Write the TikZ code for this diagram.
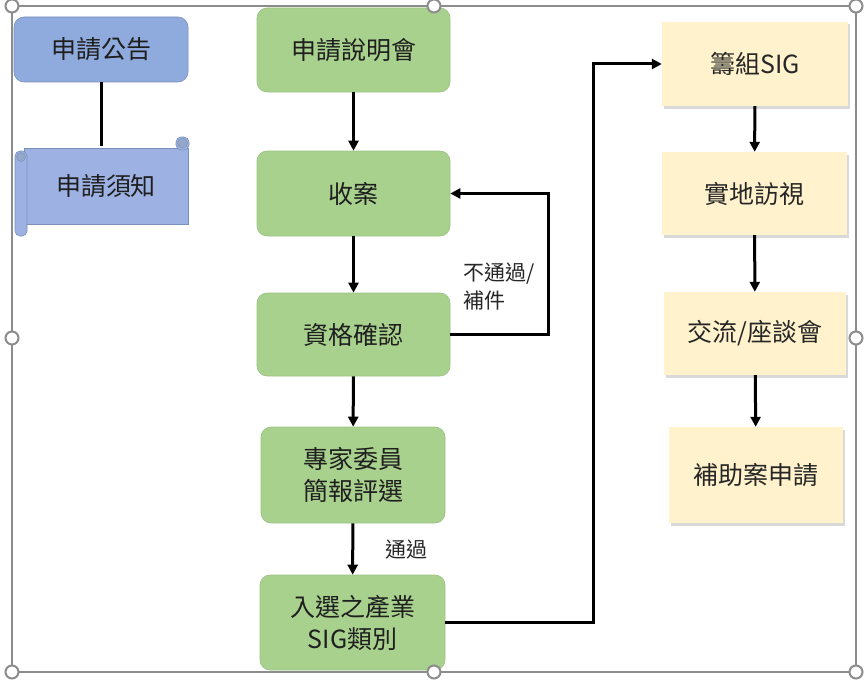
\documentclass[tikz,border=0pt]{standalone}
\usepackage{fontspec}
\setmainfont{Noto Sans CJK TC}
\usetikzlibrary{arrows.meta,shadows}
\definecolor{boxgreen}{HTML}{A9D18E}
\definecolor{boxblue}{HTML}{8FAADC}
\definecolor{scrollblue}{HTML}{9DB2E2}
\definecolor{boxyellow}{HTML}{FFF2CC}
\tikzstyle{greenbox}=[rectangle,rounded corners=10pt,fill=boxgreen,draw=boxgreen!92!black,line width=0.6pt,align=center,text=black!88,font=\fontsize{25}{32}\selectfont]
\tikzstyle{bluebox}=[rectangle,rounded corners=10pt,fill=boxblue,draw=boxblue!85!black,line width=0.6pt,text=black!88,font=\fontsize{25}{32}\selectfont]
\tikzstyle{yellowbox}=[rectangle,fill=boxyellow,align=center,text=black!85,font=\fontsize{25}{32}\selectfont,drop shadow={shadow xshift=2pt,shadow yshift=-2.5pt,opacity=0.3}]
\tikzstyle{edge} = [draw,line width=3pt,-{Triangle[length=10pt,width=10pt]}]
\tikzstyle{note} = [font=\fontsize{21}{28}\selectfont,align=left,text=black!85]

\begin{document}
\begin{tikzpicture}[x=1pt,y=-1pt]
    \useasboundingbox (0,0) rectangle (865,685);

    % green column
    \foreach \x/\y/\w/\h/\name/\txt in {353.5/50/193/84/sm/{申請說明會}, 353.5/193.5/193/85/sa/{收案},
        353.5/334.5/193/83/zg/{資格確認}, 353/475/184/96/zj/{專家委員\\簡報評選}, 352.5/622.5/185/95/rx/{入選之產業\\SIG類別}}
        \node[greenbox, minimum width=\w pt, minimum height=\h pt] (\name) at (\x,\y) {\txt};

    % yellow column
    \foreach \x/\y/\w/\h/\name/\txt in {755/64/186/84/cz/{籌組SIG}, 754.5/193.5/185/83/sd/{實地訪視},
        755/333.5/182/83/jl/{交流/座談會}, 756/475/174/96/bz/{補助案申請}}
        \node[yellowbox, minimum width=\w pt, minimum height=\h pt] (\name) at (\x,\y) {\txt};

    % blue: notice and scroll
    \node[bluebox, minimum width=174pt, minimum height=65pt] (gg) at (101,49.5) {申請公告};
    \draw[line width=3pt] (gg.south) -- (101,146);
    \node[rectangle, fill=scrollblue, draw=boxblue!85!black, line width=0.6pt, minimum width=164pt, minimum height=76pt,
        text=black!88, font=\fontsize{25}{32}\selectfont] (xz) at (106,186) {申請須知};
    \draw[fill=scrollblue, draw=boxblue!85!black, line width=0.6pt, rounded corners=5pt] (15,151) rectangle (27,236);
    \draw[fill=boxblue!85!black!80, draw=boxblue!85!black] (21,157) circle (4.5pt);
    \draw[fill=scrollblue, draw=boxblue!85!black, line width=0.6pt, rounded corners=5pt] (176,137) rectangle (189,150);
    \draw[fill=boxblue!85!black!80, draw=boxblue!85!black] (182.5,143) circle (5pt);

    \foreach \source/\dest in {sm/sa, sa/zg, zg/zj, cz/sd, sd/jl, jl/bz}
        \path[edge] (\source) -- (\dest);
    \path[edge] (zj) -- node[note, right=28pt, pos=0.52] {通過} (rx);

    % not passed: back to the intake
    \coordinate (back) at (548,334.5);
    \path[edge] (zg.east) -- (back) |- (sa.east);
    \node[note, anchor=north west] (np) at (460,259) {不通過/\\補件};

    % selected: on to the SIG
    \coordinate (up) at (593,622.5);
    \path[edge] (rx.east) -- (up) |- (cz.west);

    % selection frame
    \draw[black!45, line width=1.2pt] (12,6) rectangle (856,672);
    \foreach \x/\y in {12/6, 434/6, 856/6, 12/338, 856/338, 12/672, 434/672, 856/672}
        \draw[black!45, line width=2pt, fill=white] (\x,\y) circle (6.5pt);
\end{tikzpicture}
\end{document}
